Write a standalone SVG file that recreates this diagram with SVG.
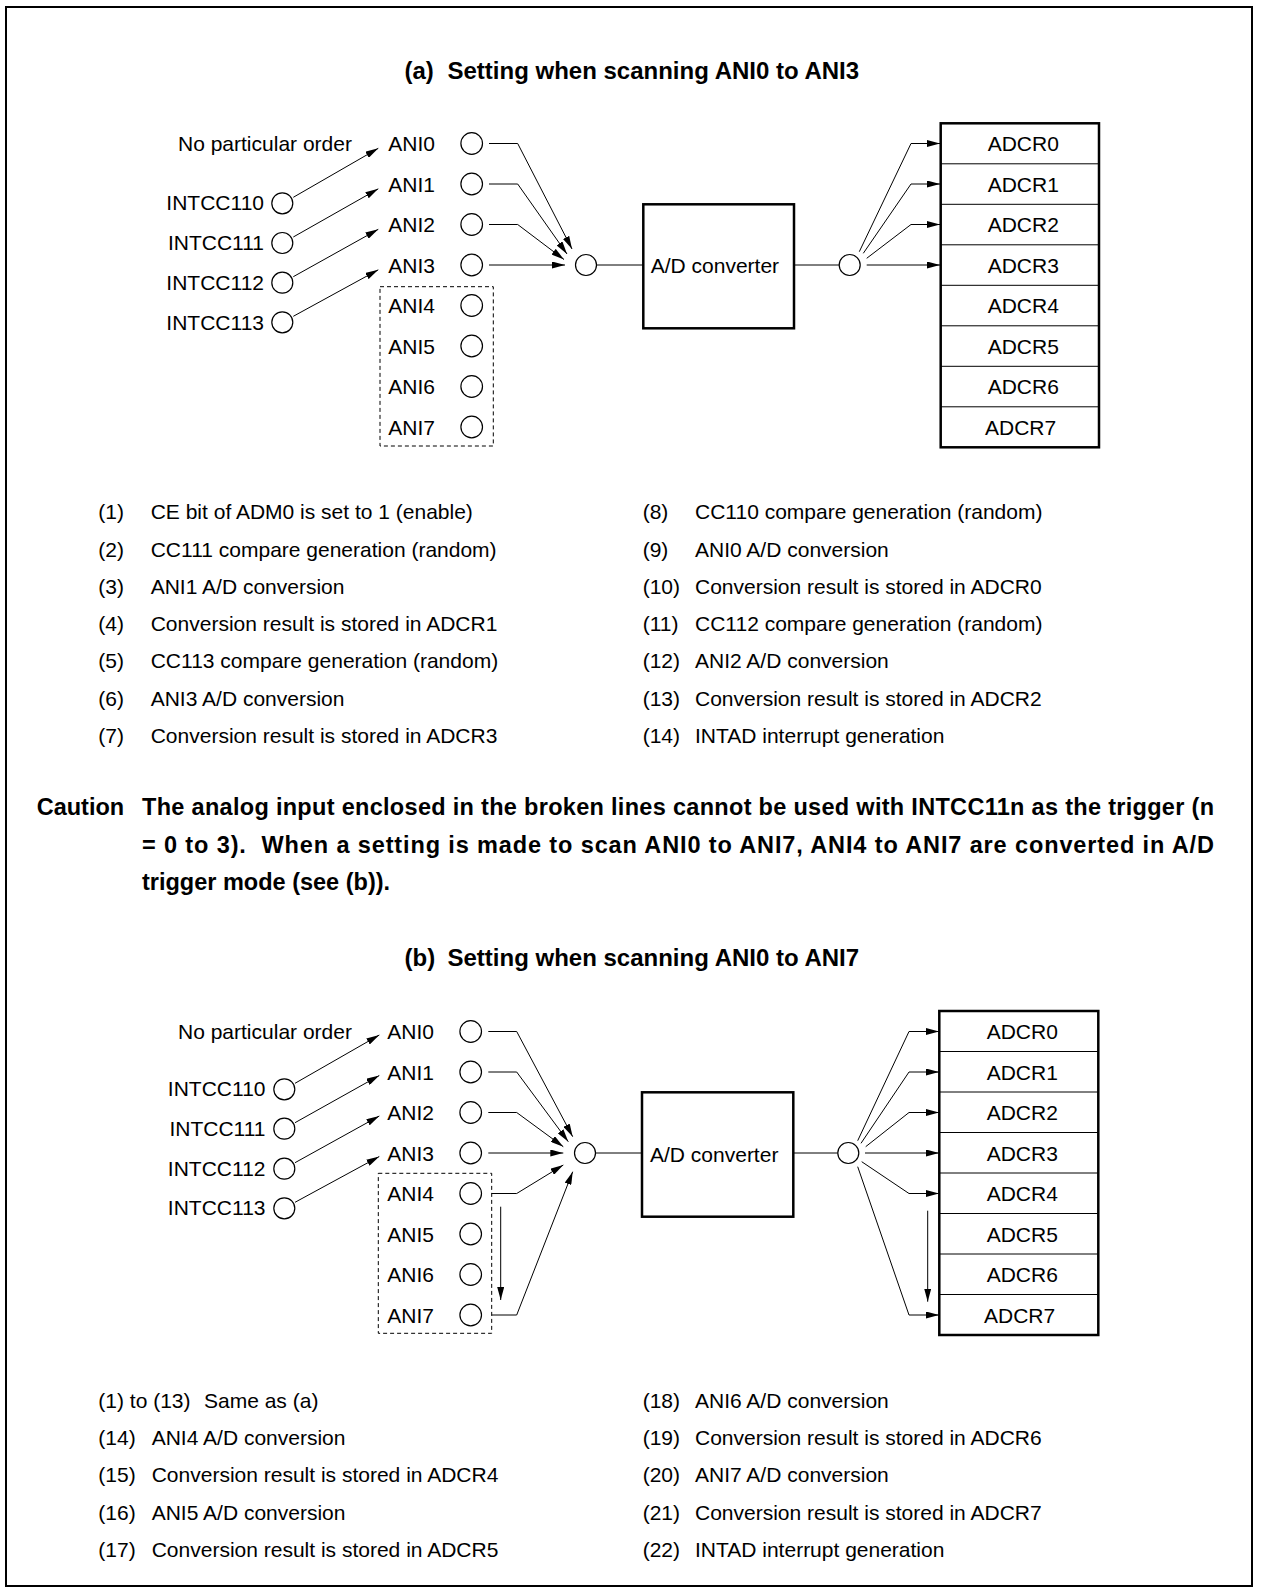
<svg xmlns="http://www.w3.org/2000/svg" width="1261" height="1593" viewBox="0 0 1261 1593">
<style>
.t{font-family:"Liberation Sans",Arial,Helvetica,sans-serif;font-size:21px;fill:#000}
.tb{font-family:"Liberation Sans",Arial,Helvetica,sans-serif;font-size:24px;font-weight:bold;fill:#000}
.cb{font-family:"Liberation Sans",Arial,Helvetica,sans-serif;font-size:23.5px;font-weight:bold;fill:#000}
.ln{fill:none;stroke:#000;stroke-width:1}
.ar{fill:none;stroke:#000;stroke-width:1;marker-end:url(#ah)}
.c{fill:#fff;stroke:#000;stroke-width:1.2}
.box{fill:#fff;stroke:#000;stroke-width:2.5}
.div{fill:none;stroke:#000;stroke-width:1}
.dash{fill:none;stroke:#000;stroke-width:1;stroke-dasharray:4 3}
</style>
<defs>
<marker id="ah" markerUnits="userSpaceOnUse" viewBox="0 0 13 7" refX="13" refY="3.5" markerWidth="13" markerHeight="7" orient="auto">
<path d="M0,0 L13,3.5 L0,7 z" fill="#000"/>
</marker>
</defs>
<rect x="6" y="7" width="1246" height="1579" fill="#fff" stroke="#000" stroke-width="2"/>

<!-- ========== (a) ========== -->
<g id="title-a"><text class="tb" y="79"><tspan x="404.5">(a)</tspan><tspan x="447.5">Setting when scanning ANI0 to ANI3</tspan></text></g>
<g id="order-a"><text class="t" x="178" y="151">No particular order</text></g>

<g id="intcc-a">
<g id="a-intcc110"><text class="t" x="264" y="210" text-anchor="end">INTCC110</text><circle class="c" cx="282.3" cy="203.3" r="10.5"/></g>
<g id="a-intcc111"><text class="t" x="264" y="250" text-anchor="end">INTCC111</text><circle class="c" cx="282.3" cy="243" r="10.5"/></g>
<g id="a-intcc112"><text class="t" x="264" y="290" text-anchor="end">INTCC112</text><circle class="c" cx="282.3" cy="282.7" r="10.5"/></g>
<g id="a-intcc113"><text class="t" x="264" y="329.5" text-anchor="end">INTCC113</text><circle class="c" cx="282.3" cy="322.3" r="10.5"/></g>
</g>

<g id="ani-a">
<g id="a-ani0"><text class="t" x="388.3" y="151">ANI0</text><circle class="c" cx="471.7" cy="143.5" r="10.8"/></g>
<g id="a-ani1"><text class="t" x="388.3" y="191.5">ANI1</text><circle class="c" cx="471.7" cy="184" r="10.8"/></g>
<g id="a-ani2"><text class="t" x="388.3" y="232">ANI2</text><circle class="c" cx="471.7" cy="224.5" r="10.8"/></g>
<g id="a-ani3"><text class="t" x="388.3" y="272.5">ANI3</text><circle class="c" cx="471.7" cy="265" r="10.8"/></g>
<g id="a-ani4"><text class="t" x="388.3" y="313">ANI4</text><circle class="c" cx="471.7" cy="305.5" r="10.8"/></g>
<g id="a-ani5"><text class="t" x="388.3" y="353.5">ANI5</text><circle class="c" cx="471.7" cy="346" r="10.8"/></g>
<g id="a-ani6"><text class="t" x="388.3" y="394">ANI6</text><circle class="c" cx="471.7" cy="386.5" r="10.8"/></g>
<g id="a-ani7"><text class="t" x="388.3" y="434.5">ANI7</text><circle class="c" cx="471.7" cy="427" r="10.8"/></g>
<rect id="a-broken" class="dash" x="380" y="286.7" width="113.3" height="159.3"/>
</g>

<g id="a-merge"><circle class="c" cx="586" cy="265" r="10.5"/></g>
<g id="a-adc"><rect class="box" x="643.3" y="204.3" width="150.7" height="124"/><text class="t" x="650.7" y="273.3">A/D converter</text></g>
<g id="a-out"><circle class="c" cx="849.7" cy="265" r="10.5"/></g>

<g id="a-adcr">
<rect class="box" x="940.7" y="123.3" width="158.3" height="324"/>
<path class="div" d="M940.7,163.8H1099M940.7,204.3H1099M940.7,244.8H1099M940.7,285.3H1099M940.7,325.8H1099M940.7,366.3H1099M940.7,406.8H1099"/>
<text class="t" x="987.7" y="151">ADCR0</text>
<text class="t" x="987.7" y="191.5">ADCR1</text>
<text class="t" x="987.7" y="232">ADCR2</text>
<text class="t" x="987.7" y="272.5">ADCR3</text>
<text class="t" x="987.7" y="313">ADCR4</text>
<text class="t" x="987.7" y="353.5">ADCR5</text>
<text class="t" x="987.7" y="394">ADCR6</text>
<text class="t" x="985" y="434.5">ADCR7</text>
</g>

<g id="connectors-a">
<path class="ar" d="M293.3,197.3L378.3,148.3"/>
<path class="ar" d="M293.3,237L378.3,188.8"/>
<path class="ar" d="M293.3,276.7L378.3,229.3"/>
<path class="ar" d="M293.3,316.3L378.3,269.8"/>
<path class="ar" d="M489,143.5H517.7L572,249"/>
<path class="ar" d="M489,184H517.7L567,254"/>
<path class="ar" d="M489,224.5H517.7L564,259.5"/>
<path class="ar" d="M489,265H565"/>
<path class="ln" d="M596.5,265H643.3"/>
<path class="ln" d="M794,265H839.2"/>
<path class="ar" d="M859.3,251.7L911,143.5H940"/>
<path class="ar" d="M863.3,253.3L911,184H940"/>
<path class="ar" d="M866.7,258.3L911,224.5H940"/>
<path class="ar" d="M866.7,265H940"/>
</g>

<!-- legend (a) -->
<g id="legend-a">
<text class="t" x="98.3" y="519.3">(1)</text><text class="t" x="150.7" y="519.3">CE bit of ADM0 is set to 1 (enable)</text>
<text class="t" x="98.3" y="556.5">(2)</text><text class="t" x="150.7" y="556.5">CC111 compare generation (random)</text>
<text class="t" x="98.3" y="593.8">(3)</text><text class="t" x="150.7" y="593.8">ANI1 A/D conversion</text>
<text class="t" x="98.3" y="631">(4)</text><text class="t" x="150.7" y="631">Conversion result is stored in ADCR1</text>
<text class="t" x="98.3" y="668.3">(5)</text><text class="t" x="150.7" y="668.3">CC113 compare generation (random)</text>
<text class="t" x="98.3" y="705.5">(6)</text><text class="t" x="150.7" y="705.5">ANI3 A/D conversion</text>
<text class="t" x="98.3" y="742.8">(7)</text><text class="t" x="150.7" y="742.8">Conversion result is stored in ADCR3</text>
<text class="t" x="642.7" y="519.3">(8)</text><text class="t" x="695" y="519.3">CC110 compare generation (random)</text>
<text class="t" x="642.7" y="556.5">(9)</text><text class="t" x="695" y="556.5">ANI0 A/D conversion</text>
<text class="t" x="642.7" y="593.8">(10)</text><text class="t" x="695" y="593.8">Conversion result is stored in ADCR0</text>
<text class="t" x="642.7" y="631">(11)</text><text class="t" x="695" y="631">CC112 compare generation (random)</text>
<text class="t" x="642.7" y="668.3">(12)</text><text class="t" x="695" y="668.3">ANI2 A/D conversion</text>
<text class="t" x="642.7" y="705.5">(13)</text><text class="t" x="695" y="705.5">Conversion result is stored in ADCR2</text>
<text class="t" x="642.7" y="742.8">(14)</text><text class="t" x="695" y="742.8">INTAD interrupt generation</text>
</g>

<g id="caution">
<text class="cb" x="36.7" y="815">Caution</text>
<text class="cb" x="142" y="815" textLength="1072" lengthAdjust="spacing">The analog input enclosed in the broken lines cannot be used with INTCC11n as the trigger (n</text>
<text class="cb" x="142" y="852.6" textLength="1072" lengthAdjust="spacing" style="white-space:pre">= 0 to 3).  When a setting is made to scan ANI0 to ANI7, ANI4 to ANI7 are converted in A/D</text>
<text class="cb" x="142" y="890.2">trigger mode (see (b)).</text>
</g>

<!-- ========== (b) ========== -->
<g id="title-b"><text class="tb" y="966"><tspan x="404.5">(b)</tspan><tspan x="447.5">Setting when scanning ANI0 to ANI7</tspan></text></g>
<g id="order-b"><text class="t" x="178" y="1039">No particular order</text></g>

<g id="intcc-b">
<g id="b-intcc110"><text class="t" x="265.5" y="1096" text-anchor="end">INTCC110</text><circle class="c" cx="284.3" cy="1089.3" r="10.5"/></g>
<g id="b-intcc111"><text class="t" x="265.5" y="1135.5" text-anchor="end">INTCC111</text><circle class="c" cx="284.3" cy="1128.7" r="10.5"/></g>
<g id="b-intcc112"><text class="t" x="265.5" y="1175.5" text-anchor="end">INTCC112</text><circle class="c" cx="284.3" cy="1168.7" r="10.5"/></g>
<g id="b-intcc113"><text class="t" x="265.5" y="1215" text-anchor="end">INTCC113</text><circle class="c" cx="284.3" cy="1208.3" r="10.5"/></g>
</g>

<g id="ani-b">
<g id="b-ani0"><text class="t" x="387.3" y="1039">ANI0</text><circle class="c" cx="470.7" cy="1031.5" r="10.8"/></g>
<g id="b-ani1"><text class="t" x="387.3" y="1079.5">ANI1</text><circle class="c" cx="470.7" cy="1072" r="10.8"/></g>
<g id="b-ani2"><text class="t" x="387.3" y="1120">ANI2</text><circle class="c" cx="470.7" cy="1112.5" r="10.8"/></g>
<g id="b-ani3"><text class="t" x="387.3" y="1160.5">ANI3</text><circle class="c" cx="470.7" cy="1153" r="10.8"/></g>
<g id="b-ani4"><text class="t" x="387.3" y="1201">ANI4</text><circle class="c" cx="470.7" cy="1193.5" r="10.8"/></g>
<g id="b-ani5"><text class="t" x="387.3" y="1241.5">ANI5</text><circle class="c" cx="470.7" cy="1234" r="10.8"/></g>
<g id="b-ani6"><text class="t" x="387.3" y="1282">ANI6</text><circle class="c" cx="470.7" cy="1274.5" r="10.8"/></g>
<g id="b-ani7"><text class="t" x="387.3" y="1322.5">ANI7</text><circle class="c" cx="470.7" cy="1315" r="10.8"/></g>
<rect id="b-broken" class="dash" x="378.3" y="1173.3" width="113.4" height="160"/>
</g>

<g id="b-merge"><circle class="c" cx="585" cy="1153" r="10.5"/></g>
<g id="b-adc"><rect class="box" x="642" y="1092.3" width="151.3" height="124.4"/><text class="t" x="650" y="1161.5">A/D converter</text></g>
<g id="b-out"><circle class="c" cx="848.3" cy="1153" r="10.5"/></g>

<g id="b-adcr">
<rect class="box" x="939.3" y="1011" width="159" height="324"/>
<path class="div" d="M939.3,1051.5H1098.3M939.3,1092H1098.3M939.3,1132.5H1098.3M939.3,1173H1098.3M939.3,1213.5H1098.3M939.3,1254H1098.3M939.3,1294.5H1098.3"/>
<text class="t" x="986.7" y="1039">ADCR0</text>
<text class="t" x="986.7" y="1079.5">ADCR1</text>
<text class="t" x="986.7" y="1120">ADCR2</text>
<text class="t" x="986.7" y="1160.5">ADCR3</text>
<text class="t" x="986.7" y="1201">ADCR4</text>
<text class="t" x="986.7" y="1241.5">ADCR5</text>
<text class="t" x="986.7" y="1282">ADCR6</text>
<text class="t" x="984" y="1322.5">ADCR7</text>
</g>

<g id="connectors-b">
<path class="ar" d="M295,1083.3L379.3,1035"/>
<path class="ar" d="M295,1122.7L379.3,1075.5"/>
<path class="ar" d="M295,1162.7L379.3,1116"/>
<path class="ar" d="M295,1202.3L379.3,1156.5"/>
<path class="ar" d="M488.3,1031.5H516.7L572.7,1136.7"/>
<path class="ar" d="M488.3,1072H516.7L568.3,1141.7"/>
<path class="ar" d="M488.3,1112.5H516.7L563.3,1146.7"/>
<path class="ar" d="M488.3,1153H563.3"/>
<path class="ar" d="M491.7,1193.5H516.7L563.3,1165"/>
<path class="ar" d="M491.7,1315H516.7L572.7,1171.7"/>
<path class="ar" d="M500.7,1206.7V1300"/>
<path class="ln" d="M595.5,1153H642"/>
<path class="ln" d="M793.3,1153H837.8"/>
<path class="ar" d="M857.7,1140.7L909,1031.5H939"/>
<path class="ar" d="M861,1143.3L909,1072H939"/>
<path class="ar" d="M865.7,1146.7L909,1112.5H939"/>
<path class="ar" d="M865,1153H939"/>
<path class="ar" d="M861.7,1161.7L909,1193.5H939"/>
<path class="ar" d="M857.7,1166.7L909,1315H939"/>
<path class="ar" d="M927.7,1210.7V1301.7"/>
</g>

<g id="legend-b">
<text class="t" x="98.3" y="1407.7">(1) to (13)</text><text class="t" x="204" y="1407.7">Same as (a)</text>
<text class="t" x="98.3" y="1445">(14)</text><text class="t" x="151.7" y="1445">ANI4 A/D conversion</text>
<text class="t" x="98.3" y="1482.2">(15)</text><text class="t" x="151.7" y="1482.2">Conversion result is stored in ADCR4</text>
<text class="t" x="98.3" y="1519.5">(16)</text><text class="t" x="151.7" y="1519.5">ANI5 A/D conversion</text>
<text class="t" x="98.3" y="1556.7">(17)</text><text class="t" x="151.7" y="1556.7">Conversion result is stored in ADCR5</text>
<text class="t" x="642.7" y="1407.7">(18)</text><text class="t" x="695" y="1407.7">ANI6 A/D conversion</text>
<text class="t" x="642.7" y="1445">(19)</text><text class="t" x="695" y="1445">Conversion result is stored in ADCR6</text>
<text class="t" x="642.7" y="1482.2">(20)</text><text class="t" x="695" y="1482.2">ANI7 A/D conversion</text>
<text class="t" x="642.7" y="1519.5">(21)</text><text class="t" x="695" y="1519.5">Conversion result is stored in ADCR7</text>
<text class="t" x="642.7" y="1556.7">(22)</text><text class="t" x="695" y="1556.7">INTAD interrupt generation</text>
</g>
</svg>
